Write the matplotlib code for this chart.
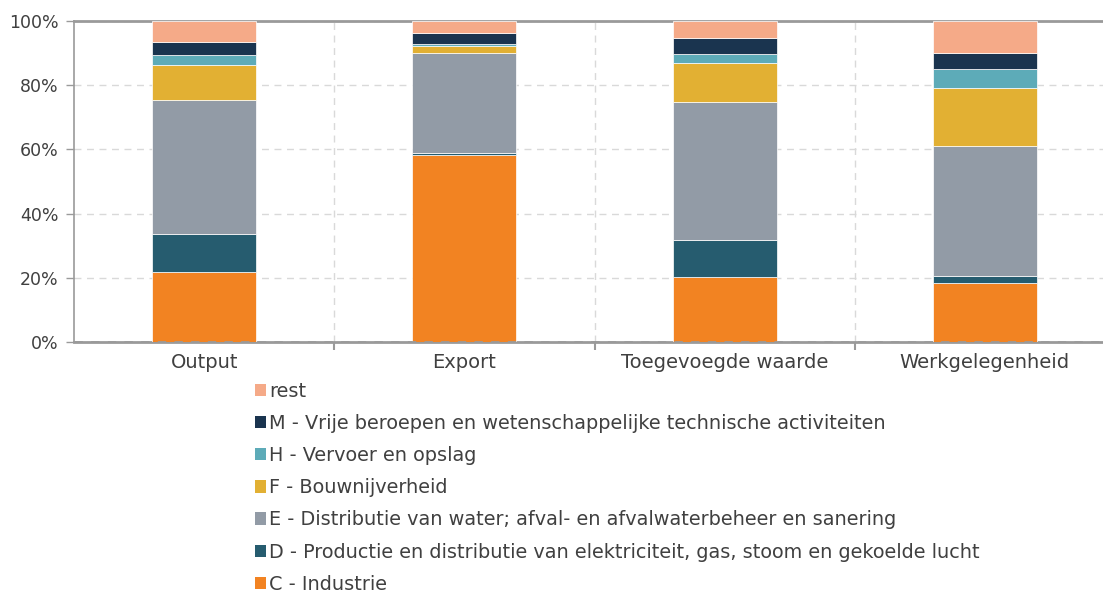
import matplotlib
matplotlib.use("Agg")
import matplotlib.pyplot as plt
from matplotlib.patches import Patch
import numpy as np

categories = ["Output", "Export", "Toegevoegde waarde", "Werkgelegenheid"]
series_names = [
    "C - Industrie",
    "D - Productie en distributie van elektriciteit, gas, stoom en gekoelde lucht",
    "E - Distributie van water; afval- en afvalwaterbeheer en sanering",
    "F - Bouwnijverheid",
    "H - Vervoer en opslag",
    "M - Vrije beroepen en wetenschappelijke technische activiteiten",
    "rest",
]
C = [21.9, 58.4, 20.2, 18.5]
D = [11.7, 0.6, 11.5, 2.0]
E = [41.8, 31.1, 43.0, 40.7]
F = [10.8, 2.1, 12.1, 18.0]
H = [3.1, 0.6, 3.0, 5.8]
M = [4.3, 3.5, 4.9, 5.1]
rest = [6.4, 3.7, 5.3, 9.9]
colors = ["#F28322", "#265C6F", "#929BA6", "#E2B033", "#5DABB8", "#1A344F", "#F5AA88"]

txt = "#404040"
grid_c = "#D9D9D9"
axis_c = "#9A9A9A"

fig = plt.figure(figsize=(11.03, 5.96), dpi=100)
# axes runs slightly past the right edge, like the reference
ax = fig.add_axes([0.0671, 0.4262, 0.9438, 0.5386])

x = np.arange(len(categories))
bottom = np.zeros(len(categories))
handles = []
for name, vals, col in zip(series_names, [C, D, E, F, H, M, rest], colors):
    ax.bar(x, vals, 0.4, bottom=bottom, color=col, edgecolor="white", linewidth=0.5, zorder=3)
    bottom += np.array(vals)
    handles.append(Patch(facecolor=col, label=name))

ax.set_xlim(-0.5, 3.5)
ax.set_ylim(0, 100)
ax.set_yticks([0, 20, 40, 60, 80, 100])
ax.set_yticklabels(["0%", "20%", "40%", "60%", "80%", "100%"])
ax.set_xticks(x)
ax.set_xticklabels(categories)
ax.set_xticks([0.5, 1.5, 2.5], minor=True)
ax.tick_params(axis="x", which="major", length=0, labelsize=14, colors=txt, pad=8)
ax.tick_params(axis="x", which="minor", length=6, width=1.5, color=axis_c)
ax.tick_params(axis="y", length=6, width=1, color=axis_c, labelsize=12.5, labelcolor=txt, pad=5)

ax.grid(axis="y", color=grid_c, linestyle=(0, (5, 4)), linewidth=1, zorder=0)
ax.grid(axis="x", which="minor", color=grid_c, linestyle=(0, (5, 4)), linewidth=1, zorder=0)
ax.axhline(0, color=axis_c, linestyle=(0, (3, 3)), linewidth=2, zorder=4)

for s in ["top", "bottom"]:
    ax.spines[s].set_color(axis_c)
    ax.spines[s].set_linewidth(2)
ax.spines["left"].set_color(axis_c)
ax.spines["left"].set_linewidth(1.2)
ax.spines["right"].set_visible(False)

fig.legend(handles=handles[::-1], loc="upper left", bbox_to_anchor=(0.222, 0.376),
           frameon=False, fontsize=13.9, labelcolor=txt, handlelength=0.62,
           handleheight=0.62, handletextpad=0.15, labelspacing=0.685, borderpad=0)

fig.savefig("out.png", dpi=100)
